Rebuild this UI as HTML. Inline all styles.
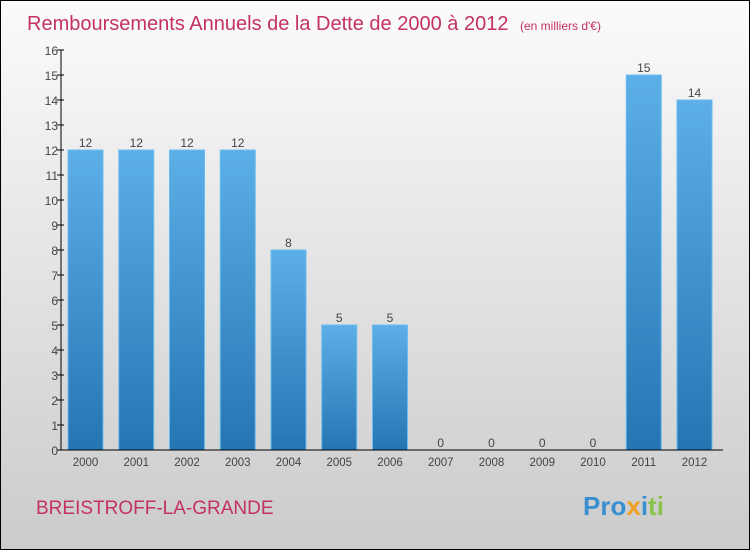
<!DOCTYPE html>
<html><head><meta charset="utf-8"><style>
body{margin:0}
#c{width:748px;height:548px;border:1px solid #000;background:linear-gradient(#fbfbfb,#cbcbcb);position:relative;font-family:"Liberation Sans",sans-serif;overflow:hidden}
</style></head><body>
<div id="c">
<svg width="748" height="548">
<defs><linearGradient id="bg" x1="0" y1="0" x2="0" y2="1"><stop offset="0" stop-color="#5cafe7"/><stop offset="1" stop-color="#2575b3"/></linearGradient></defs>
<text x="26" y="29" font-size="20" fill="#c4325f">Remboursements Annuels de la Dette de 2000 à 2012 <tspan font-size="12" dx="6">(en milliers d'€)</tspan></text>
<text x="35" y="513" font-size="19" fill="#c4325f">BREISTROFF-LA-GRANDE</text>
<text x="582" y="514" font-size="26" font-weight="bold" fill="#3a8fd0"><tspan fill="#3a8fd0">Pro</tspan><tspan fill="#f0a020">x</tspan><tspan fill="#3a8fd0">i</tspan><tspan fill="#8bc34a">ti</tspan></text>
<g id="g"></g>
</svg></div>
<script>
const years=["2000","2001","2002","2003","2004","2005","2006","2007","2008","2009","2010","2011","2012"];
const values=[12,12,12,12,8,5,5,0,0,0,0,15,14];
const yTicks=[0,1,2,3,4,5,6,7,8,9,10,11,12,13,14,15,16];
const ns="http://www.w3.org/2000/svg",g=document.getElementById('g');
const y0=449,pu=25,x0=67,step=50.75,bw=35;
const Y=v=>y0-v*pu, X=i=>x0+i*step;
function el(t,a){const e=document.createElementNS(ns,t);for(const k in a)e.setAttribute(k,a[k]);g.appendChild(e);return e;}
values.forEach((v,i)=>{
 const r=el('rect',{x:X(i),y:Y(v),width:bw,height:v*pu,fill:'url(#bg)',stroke:'#6bbcf0','stroke-width':1});
 
 
 const t=el('text',{x:X(i)+bw/2,y:Y(v)-3,'font-size':12,fill:'#444','text-anchor':'middle'});t.textContent=v;
 
 
 const l=el('text',{x:X(i)+bw/2,y:y0+16,'font-size':11.5,fill:'#444','text-anchor':'middle'});l.textContent=years[i];
 
 
});
yTicks.forEach(v=>{
 el('line',{x1:56,x2:63,y1:Y(v),y2:Y(v),stroke:'#000'});
 const t=el('text',{x:57,y:Y(v)+5,'font-size':12,fill:'#444','text-anchor':'end'});t.textContent=v;
 
 
});
const ya=el('line',{x1:60,x2:60,y1:Y(16),y2:y0,stroke:'#000'});


const xa=el('line',{x1:60,x2:722,y1:y0,y2:y0,stroke:'#000'});


</script>
</body></html>
